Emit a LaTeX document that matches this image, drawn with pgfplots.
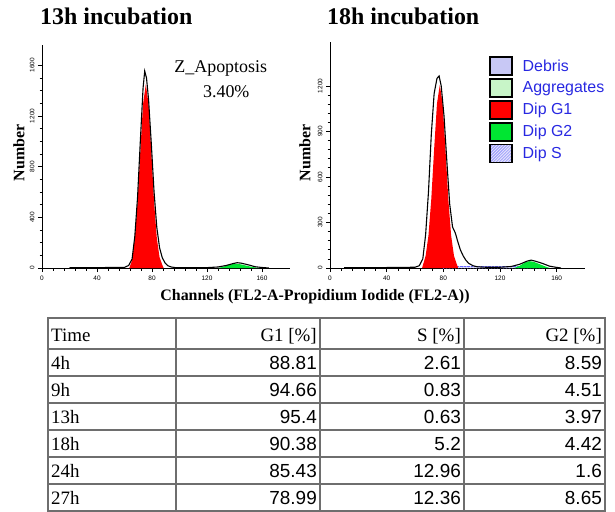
\documentclass[border=0pt]{standalone}
\usepackage{fontspec}
\setmainfont{Liberation Serif}
\newfontfamily\sansf{Liberation Sans}
\usepackage{pgfplots}
\pgfplotsset{compat=1.18}
\usetikzlibrary{patterns}

\definecolor{debris}{RGB}{200,200,245}
\definecolor{aggr}{RGB}{200,245,200}
\definecolor{gone}{RGB}{255,0,0}
\definecolor{gtwo}{RGB}{0,230,50}
\definecolor{sphase}{RGB}{225,225,250}
\definecolor{legblue}{RGB}{40,40,225}
\definecolor{tabline}{RGB}{110,110,110}

% 13h incubation
\pgfplotstableread{
x y
20 2
40 3
60 5
63 20
65.5 70
67.5 250
69.5 560
71.5 1000
73.5 1420
74.7 1554
76 1500
77.5 1330
79.5 980
81.5 600
83.5 320
85.5 160
87.5 80
89.5 40
91.5 18
94 8
97 3
120 3
128 8
134 20
139 35
142 42
145 38
150 25
155 10
160 4
165 0
}\rawA
\pgfplotstableread{
x y
63.5 0
65.5 60
67.5 236
69.5 522
71.5 921
73.5 1295
75.5 1450
77.5 1295
79.5 921
81.5 522
83.5 236
85.5 85
87.5 24
88.5 0
}\gaA
\pgfplotstableread{
x y
128 0
132 10
136 25
140 33
144 30
148 20
152 10
156 3
158 0
}\gbA

% 18h incubation
\pgfplotstableread{
x y
10 3
40 3
60 5
63 15
65.5 60
67.5 220
69.5 500
71.5 880
73.5 1150
75.5 1250
77 1266
78.5 1200
80.5 1000
82.5 700
84.5 420
86.5 270
87.5 250
88.5 230
90 180
92 120
94 80
96 50
98 30
101 15
104 8
110 5
120 5
128 10
134 25
139 45
142 52
145 45
150 30
155 12
160 4
163 0
}\rawB
\pgfplotstableread{
x y
65 0
67.5 81
69.5 214
71.5 456
73.5 783
75.5 1083
77.5 1207
79.5 1083
81.5 783
83.5 456
85.5 214
87.5 81
89.5 25
90.5 0
}\gaB
\pgfplotstableread{
x y
130 0
134 15
138 38
141 45
144 40
148 25
152 10
155 0
}\gbB
\pgfplotstableread{
x y
80 0
80 12
150 12
150 0
}\spB

\pgfplotsset{
  hist/.style={
    scale only axis,
    axis lines=left,
    axis line style={-, line width=0.9pt},
    xmin=0, xmax=180, ymin=0,
    xtick={0,40,...,160},
    minor x tick num=4,
    tick align=outside,
    major tick length=4bp,
    minor tick length=2.5bp,
    every tick/.style={black, line width=0.8pt},
    /pgf/number format/assume math mode=true,
    /pgf/number format/1000 sep={},
    ticklabel style={font=\sansf\fontsize{6.5}{6.5}\selectfont},
    yticklabel style={rotate=90, anchor=south},
    ylabel={Number},
    ylabel style={font=\bfseries\fontsize{16}{16}\selectfont, anchor=center},
    title style={font=\bfseries\fontsize{24}{24}\selectfont, anchor=base west, inner sep=0pt},
  },
}

\begin{document}
\begin{tikzpicture}[x=1bp,y=1bp]
\useasboundingbox (0,0) rectangle (615,-512);

\begin{axis}[hist,
  at={(42bp,-268bp)}, anchor=south west,
  width=247.5bp, height=223bp,
  ymax=1760,
  ytick={0,400,...,1600}, minor y tick num=3,
  ylabel style={at={(axis description cs:-0.093,0.516)}},
  title={13h incubation},
  title style={at={(axis description cs:-0.008,1.063)}},
]
\addplot[fill=gone, draw=none] table {\gaA} \closedcycle;
\addplot[fill=gtwo, draw=none] table {\gbA} \closedcycle;
\addplot[black, line width=1.1pt] table {\rawA};
\node[font=\fontsize{18}{18}\selectfont] at (axis cs:130,1578) {Z\_Apoptosis};
\node[font=\fontsize{18}{18}\selectfont] at (axis cs:134,1389) {3.40\%};
\end{axis}

\begin{axis}[hist,
  at={(330bp,-268bp)}, anchor=south west,
  width=255bp, height=226bp,
  ymax=1490,
  ytick={0,300,...,1200}, minor y tick num=4,
  ylabel style={at={(axis description cs:-0.098,0.509)}},
  title={18h incubation},
  title style={at={(axis description cs:-0.012,1.049)}},
  legend image code/.code={\draw[#1, line width=1.4pt] (0bp,-9bp) rectangle (22bp,9bp);},
  legend style={at={(rel axis cs:0.624,0.937)}, anchor=north west,
    draw=none, fill=none, inner sep=0pt, row sep=2.5bp,
    font=\sansf\fontsize{16}{16}\selectfont, text=legblue,
    cells={anchor=west},
    /tikz/every odd column/.append style={column sep=8bp}},
]
\addlegendimage{draw=black, fill=debris}
\addlegendentry{Debris}
\addlegendimage{draw=black, fill=aggr}
\addlegendentry{Aggregates}
\addlegendimage{draw=black, fill=gone}
\addlegendentry{Dip G1}
\addlegendimage{draw=black, fill=gtwo}
\addlegendentry{Dip G2}
\addlegendimage{draw=black, fill=sphase, postaction={pattern=north east lines, pattern color=blue!55}}
\addlegendentry{Dip S}
\addplot[forget plot, fill=sphase, draw=blue!60, densely dotted, postaction={pattern=north east lines, pattern color=blue!55}] table {\spB};
\addplot[forget plot, fill=gone, draw=none] table {\gaB} \closedcycle;
\addplot[forget plot, fill=gtwo, draw=none] table {\gbB} \closedcycle;
\addplot[forget plot, black, line width=1.1pt] table {\rawB};
\end{axis}

\node[font=\bfseries\fontsize{16}{16}\selectfont, anchor=base] at (315,-300) {Channels (FL2-A-Propidium Iodide (FL2-A))};

% result table
\draw[tabline, line width=1.1bp] (48,-318) rectangle (605,-511);
\foreach \yy in {349,376,403,430,457,484} \draw[tabline, line width=1.1bp] (48,-\yy) -- (605,-\yy);
\foreach \xx in {176,320,464} \draw[tabline, line width=1.1bp] (\xx,-318) -- (\xx,-511);
\begin{scope}[every node/.style={inner sep=0pt, font=\fontsize{19}{19}\selectfont}]
\node[anchor=base west] at (51,-341) {Time};
\node[anchor=base east] at (317,-341) {G1 [\%]};
\node[anchor=base east] at (461,-341) {S [\%]};
\node[anchor=base east] at (602,-341) {G2 [\%]};
\foreach \t/\a/\b/\c [count=\i] in {4h/88.81/2.61/8.59, 9h/94.66/0.83/4.51, 13h/95.4/0.63/3.97, 18h/90.38/5.2/4.42, 24h/85.43/12.96/1.6, 27h/78.99/12.36/8.65} {
  \pgfmathsetmacro{\yb}{349+27*\i-7}
  \node[anchor=base west] at (51,-\yb) {\t};
  \node[anchor=base east, font=\sansf\fontsize{19}{19}\selectfont] at (317,-\yb) {\a};
  \node[anchor=base east, font=\sansf\fontsize{19}{19}\selectfont] at (461,-\yb) {\b};
  \node[anchor=base east, font=\sansf\fontsize{19}{19}\selectfont] at (602,-\yb) {\c};
}
\end{scope}
\end{tikzpicture}
\end{document}
